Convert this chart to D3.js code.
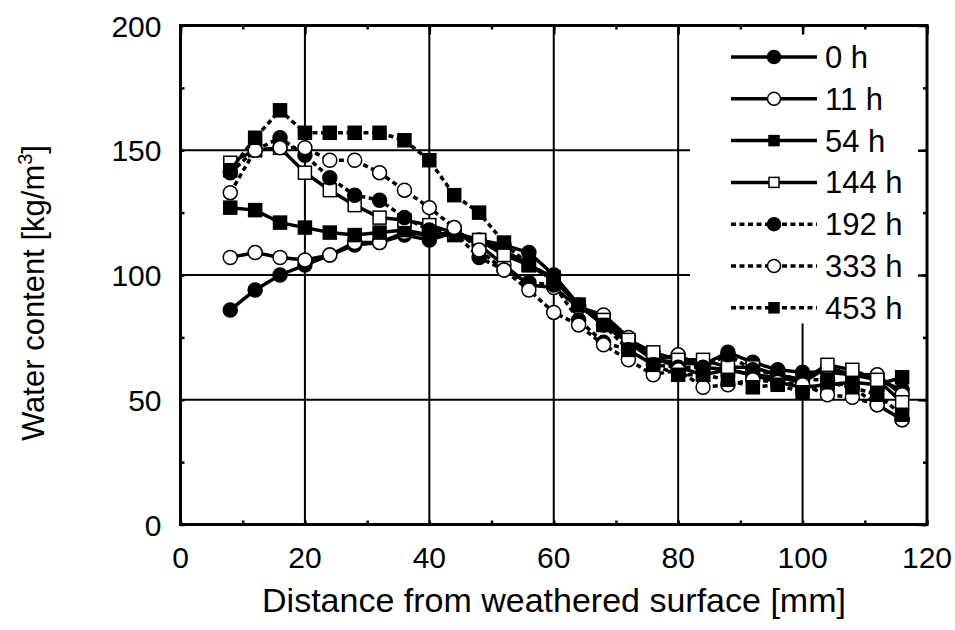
<!DOCTYPE html>
<html>
<head>
<meta charset="utf-8">
<script src="https://cdn.jsdelivr.net/npm/d3@7"></script>
<style>
  body { margin: 0; background: #fff; }
  text { font-family: "Liberation Sans", Arial, sans-serif; fill: #000; }
</style>
</head>
<body>
<div class="chart"></div>
<script>
// distance from weathered surface [mm]
var distance = [8, 12, 16, 20, 24, 28, 32, 36, 40, 44, 48, 52, 56, 60,
                64, 68, 72, 76, 80, 84, 88, 92, 96, 100, 104, 108, 112, 116];

var seriesNames = ["0 h", "11 h", "54 h", "144 h", "192 h", "333 h", "453 h"];

// water content [kg/m3]
var h0   = [86, 94, 100, 104, 108, 112, 113, 116, 114, 117, 114, 112, 109, 100, 88, 80, 73, 66, 65, 64, 69, 65, 62, 61, 61, 60, 58, 54];
var h11  = [107, 109, 107, 106, 108, 113, 113, 117, 116, 117, 112, 104, 96, 95, 87, 84, 75, 66, 68, 63, 62, 60, 59, 57, 63, 60, 60, 52];
var h54  = [127, 126, 121, 119, 117, 116, 117, 118, 116, 116, 114, 110, 104, 99, 88, 80, 73, 67, 63, 60, 62, 60, 57, 55, 56, 57, 56, 59];
var h144 = [145, 150, 151, 141, 134, 128, 123, 122, 120, 117, 114, 108, 104, 98, 88, 82, 74, 69, 66, 66, 63, 63, 60, 58, 64, 62, 58, 49];
var h192 = [141, 150, 155, 148, 139, 132, 130, 123, 118, 117, 107, 102, 97, 96, 82, 73, 70, 64, 63, 63, 68, 62, 60, 58, 58, 55, 48, 42];
var h333 = [133, 150, 151, 151, 146, 146, 141, 134, 127, 119, 110, 102, 94, 85, 80, 72, 66, 60, 62, 55, 56, 58, 57, 56, 52, 51, 48, 42];
var h453 = [142, 155, 166, 157, 157, 157, 157, 154, 146, 132, 125, 113, 104, 98, 88, 80, 70, 64, 60, 60, 58, 55, 56, 53, 57, 55, 52, 44];

var seriesValues = [h0, h11, h54, h144, h192, h333, h453];
var markerShape = ["circle", "circle", "square", "square", "circle", "circle", "square"];
var markerFilled = [true, false, true, false, true, false, true];
var dotted = [false, false, false, false, true, true, true];

var xTicks = [0, 20, 40, 60, 80, 100, 120];
var yTicks = [0, 50, 100, 150, 200];

var w = 955, h = 630;
var margin = {top: 25.5, right: 28, bottom: 105.5, left: 180.5};

var x = d3.scaleLinear().domain([0, 120]).range([margin.left, w - margin.right]);
var y = d3.scaleLinear().domain([0, 200]).range([h - margin.bottom, margin.top]);

var svg = d3.select("div.chart")
            .append("svg")
            .attr("width", w)
            .attr("height", h);

//gridlines
var grid = svg.append("g");
grid.selectAll(".vgrid")
    .data(xTicks.slice(1, -1))
    .enter()
    .append("line")
        .attr("x1", d => x(d)).attr("x2", d => x(d))
        .attr("y1", y(0)).attr("y2", y(200))
        .attr("stroke", "#000").attr("stroke-width", 2);
grid.selectAll(".hgrid")
    .data(yTicks.slice(1, -1))
    .enter()
    .append("line")
        .attr("x1", x(0)).attr("x2", x(120))
        .attr("y1", d => y(d)).attr("y2", d => y(d))
        .attr("stroke", "#000").attr("stroke-width", 2);

//legend background hides the grid
svg.append("rect")
    .attr("x", 690).attr("y", y(200) + 2)
    .attr("width", x(120) - 690 - 2).attr("height", 296)
    .attr("fill", "#fff");

//minor / major ticks pointing inward
var axes = svg.append("g");
axes.append("g")
    .attr("transform", `translate(0,${y(0)})`)
    .call(d3.axisBottom(x).tickValues(d3.range(0, 121, 10)).tickSize(-4).tickFormat(""));
axes.append("g")
    .attr("transform", `translate(0,${y(200)})`)
    .call(d3.axisTop(x).tickValues(d3.range(0, 121, 10)).tickSize(-4).tickFormat(""));
axes.append("g")
    .attr("transform", `translate(${x(0)},0)`)
    .call(d3.axisLeft(y).tickValues(d3.range(0, 201, 25)).tickSize(-4).tickFormat(""));
axes.append("g")
    .attr("transform", `translate(${x(120)},0)`)
    .call(d3.axisRight(y).tickValues(d3.range(0, 201, 25)).tickSize(-4).tickFormat(""));
axes.append("g")
    .attr("transform", `translate(0,${y(200)})`)
    .call(d3.axisTop(x).tickValues(xTicks).tickSize(-9).tickFormat(""));
axes.append("g")
    .attr("transform", `translate(${x(120)},0)`)
    .call(d3.axisRight(y).tickValues(yTicks).tickSize(-9).tickFormat(""));
axes.selectAll("path.domain").remove();
axes.selectAll(".tick line").attr("stroke", "#000").attr("stroke-width", 2.5);

//frame
svg.append("rect")
    .attr("x", x(0)).attr("y", y(200))
    .attr("width", x(120) - x(0)).attr("height", y(0) - y(200))
    .attr("fill", "none").attr("stroke", "#000").attr("stroke-width", 3);

//tick labels
svg.append("g").selectAll("text")
    .data(xTicks)
    .enter()
    .append("text")
        .attr("x", d => x(d))
        .attr("y", y(0) + 43)
        .attr("text-anchor", "middle")
        .style("font-size", "30px")
        .text(d => d);
svg.append("g").selectAll("text")
    .data(yTicks)
    .enter()
    .append("text")
        .attr("x", x(0) - 19)
        .attr("y", d => y(d) + 11)
        .attr("text-anchor", "end")
        .style("font-size", "30px")
        .text(d => d);

//axis titles
svg.append("text")
    .attr("x", 554)
    .attr("y", 612)
    .attr("text-anchor", "middle")
    .style("font-size", "34px")
    .text("Distance from weathered surface [mm]");
var yTitle = svg.append("text")
    .attr("transform", `translate(44,${(y(0) + y(200)) / 2 + 18}) rotate(-90)`)
    .attr("text-anchor", "middle")
    .style("font-size", "31px");
yTitle.append("tspan").text("Water content [kg/m");
yTitle.append("tspan").attr("dy", -12).style("font-size", "20px").text("3");
yTitle.append("tspan").attr("dy", 12).text("]");

//marker drawing helper
function drawMarker(sel, i, size) {
    if (markerShape[i] === "circle") {
        sel.append("circle")
            .attr("r", size / 2);
    } else {
        sel.append("rect")
            .attr("x", -size / 2 + 0.5).attr("y", -size / 2 + 0.5)
            .attr("width", size - 1).attr("height", size - 1);
    }
    sel.selectAll("circle,rect")
        .attr("fill", markerFilled[i] ? "#000" : "#fff")
        .attr("stroke", "#000")
        .attr("stroke-width", 1.5);
}

var line = d3.line()
    .x(d => x(d[0]))
    .y(d => y(d[1]));

//series
seriesValues.forEach(function(vals, i) {
    var pts = distance.map((d, k) => [d, vals[k]]);
    var g = svg.append("g").attr("class", "series");
    g.append("path")
        .datum(pts)
        .attr("d", line)
        .attr("fill", "none")
        .attr("stroke", "#000")
        .attr("stroke-width", 3.5)
        .attr("stroke-dasharray", dotted[i] ? "5,3.5" : null);
    g.selectAll("g.pt")
        .data(pts)
        .enter()
        .append("g")
            .attr("class", "pt")
            .attr("transform", d => `translate(${x(d[0])},${y(d[1])})`)
            .each(function() { drawMarker(d3.select(this), i, 14); });
});

//legend
var legend = svg.append("g");
seriesNames.forEach(function(name, i) {
    var ly = 57 + i * 41.8;
    var item = legend.append("g").attr("transform", `translate(0,${ly})`);
    item.append("line")
        .attr("x1", 731).attr("x2", 817)
        .attr("stroke", "#000").attr("stroke-width", 3.5)
        .attr("stroke-dasharray", dotted[i] ? "5,3.5" : null);
    var m = item.append("g").attr("transform", "translate(774,0)");
    drawMarker(m, i, markerShape[i] === "circle" ? 13 : 11);
    item.append("text")
        .attr("x", 825).attr("y", 11)
        .style("font-size", "31px")
        .text(name);
});
</script>
</body>
</html>
